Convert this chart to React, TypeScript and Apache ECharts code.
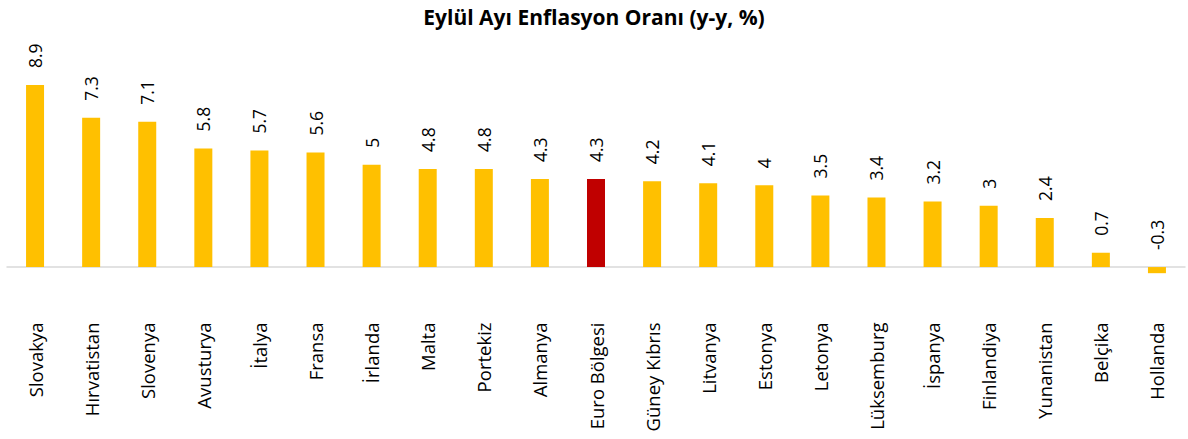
import React, { useEffect, useRef } from "react";
import * as echarts from "echarts";

const titleText = "Eylül Ayı Enflasyon Oranı (y-y, %)";
const categories = [
  "Slovakya", "Hırvatistan", "Slovenya", "Avusturya", "İtalya", "Fransa", "İrlanda",
  "Malta", "Portekiz", "Almanya", "Euro Bölgesi", "Güney Kıbrıs", "Litvanya", "Estonya",
  "Letonya", "Lüksemburg", "İspanya", "Finlandiya", "Yunanistan", "Belçika", "Hollanda",
];
const values = [8.9, 7.3, 7.1, 5.8, 5.7, 5.6, 5, 4.8, 4.8, 4.3, 4.3, 4.2, 4.1, 4, 3.5, 3.4, 3.2, 3, 2.4, 0.7, -0.3];
const highlight = "Euro Bölgesi";

const FONT = "'Open Sans', 'Noto Sans', sans-serif";

export default function App() {
  const ref = useRef<HTMLDivElement>(null);
  useEffect(() => {
    document.body.style.margin = "0";
    const chart = echarts.init(ref.current!, null, { renderer: "svg" });
    chart.setOption({
      animation: false,
      title: {
        text: titleText,
        left: "center",
        top: 1,
        textStyle: { fontFamily: FONT, fontSize: 21, fontWeight: "bold", color: "#000" },
      },
      grid: { left: 7, right: 3, top: 83, height: 204.5, outerBoundsMode: "none", containLabel: false },
      xAxis: {
        type: "category",
        data: categories,
        axisLine: { lineStyle: { color: "#D9D9D9", width: 1.5 } },
        axisTick: { show: false },
        axisLabel: {
          rotate: 90,
          interval: 0,
          margin: 35,
          fontFamily: FONT,
          fontSize: 18.5,
          color: "#000",
        },
      },
      yAxis: {
        type: "value",
        min: -1,
        max: 9,
        show: false,
        splitLine: { show: false },
      },
      series: [
        {
          type: "bar",
          barWidth: 18,
          data: values.map((v, i) => ({
            value: v,
            itemStyle: { color: categories[i] === highlight ? "#C00000" : "#FFC000" },
          })),
          label: {
            show: true,
            position: "top",
            rotate: 90,
            align: "left",
            verticalAlign: "middle",
            distance: 17,
            fontFamily: FONT,
            fontSize: 17.5,
            color: "#000",
          },
        },
      ],
    });
    return () => chart.dispose();
  }, []);
  return <div ref={ref} style={{ width: 1188, height: 439 }} />;
}
